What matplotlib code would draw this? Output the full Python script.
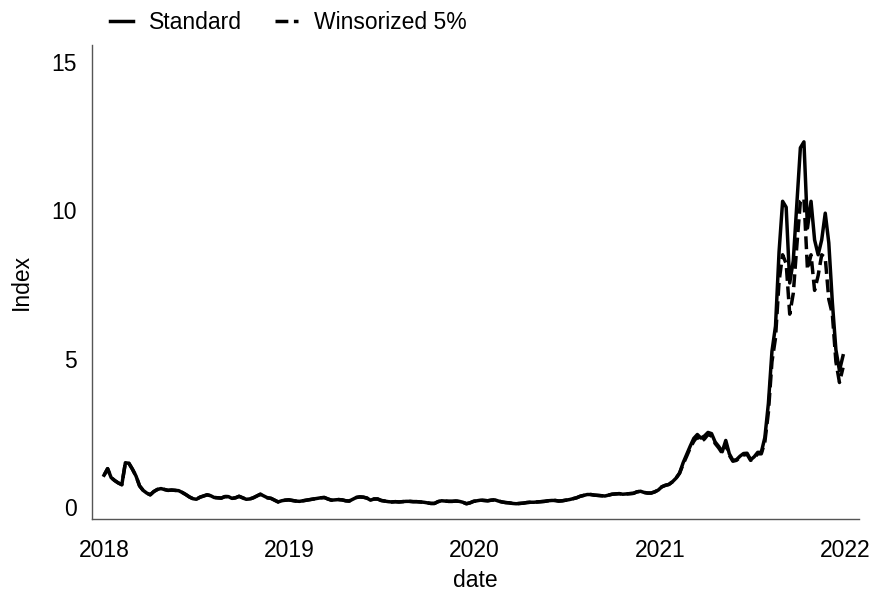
import matplotlib
matplotlib.use("agg")
import matplotlib.pyplot as plt
import matplotlib.dates as mdates
import pandas as pd

plt.rcParams["font.family"] = ["Liberation Sans", "DejaVu Sans"]

# weekly index values
start_date = "2018-01-01"

standard = [
    1.08, 1.30, 1.00, 0.90, 0.82, 0.76, 1.50, 1.48, 1.28, 1.05,
    0.72, 0.57, 0.48, 0.42, 0.53, 0.60, 0.63, 0.60, 0.57, 0.58,
    0.57, 0.56, 0.50, 0.43, 0.35, 0.29, 0.27, 0.34, 0.38, 0.42,
    0.39, 0.33, 0.32, 0.31, 0.36, 0.36, 0.30, 0.32, 0.37, 0.32,
    0.27, 0.28, 0.32, 0.38, 0.44, 0.38, 0.32, 0.30, 0.24, 0.18,
    0.22, 0.24, 0.25, 0.23, 0.21, 0.20, 0.22, 0.24, 0.26, 0.28,
    0.30, 0.32, 0.33, 0.28, 0.24, 0.25, 0.26, 0.25, 0.22, 0.21,
    0.27, 0.33, 0.35, 0.34, 0.31, 0.24, 0.28, 0.28, 0.23, 0.21,
    0.19, 0.18, 0.19, 0.18, 0.19, 0.20, 0.20, 0.19, 0.19, 0.18,
    0.17, 0.15, 0.13, 0.13, 0.19, 0.22, 0.21, 0.20, 0.20, 0.21,
    0.20, 0.17, 0.12, 0.15, 0.20, 0.22, 0.24, 0.23, 0.22, 0.24,
    0.25, 0.21, 0.18, 0.16, 0.15, 0.13, 0.12, 0.13, 0.14, 0.16,
    0.17, 0.17, 0.18, 0.19, 0.20, 0.22, 0.23, 0.23, 0.21, 0.22,
    0.24, 0.26, 0.29, 0.32, 0.37, 0.40, 0.43, 0.43, 0.41, 0.40,
    0.39, 0.38, 0.41, 0.44, 0.45, 0.46, 0.44, 0.45, 0.46, 0.47,
    0.52, 0.54, 0.50, 0.48, 0.48, 0.52, 0.58, 0.69, 0.74, 0.77,
    0.86, 0.98, 1.15, 1.50, 1.78, 2.06, 2.32, 2.45, 2.33, 2.40,
    2.52, 2.48, 2.20, 2.05, 1.87, 2.25, 1.80, 1.58, 1.60, 1.72,
    1.81, 1.82, 1.60, 1.70, 1.85, 1.85, 2.35, 3.50, 5.25, 6.10,
    8.60, 10.30, 10.10, 7.55, 8.30, 10.20, 12.10, 12.30, 9.40, 10.30,
    9.00, 8.50, 9.00, 9.90, 8.90, 6.90, 5.30, 4.60, 5.10,
]

# winsorized series matches the standard one until spring 2021
winsorized_2021 = [
    1.45, 1.72, 2.00, 2.22, 2.38, 2.20, 2.30, 2.45, 2.40, 2.15,
    2.00, 1.82, 2.15, 1.75, 1.55, 1.58, 1.68, 1.76, 1.78, 1.58,
    1.66, 1.80, 1.80, 2.20, 3.20, 4.90, 5.70, 7.60, 8.50, 8.20,
    6.50, 7.20, 8.80, 10.30, 10.40, 8.00, 8.50, 7.30, 7.80, 8.50,
    8.40, 7.00, 6.50, 4.90, 4.20, 4.70,
]
winsorized = standard[:163] + winsorized_2021

dates = pd.date_range(start_date, periods=len(standard), freq="7D")

fig = plt.figure(figsize=(8.75, 5.92), dpi=100)
ax = fig.add_axes([0.105, 0.123, 0.877, 0.801])

ax.plot(dates, standard, color="black", lw=2.5, label="Standard")
ax.plot(dates, winsorized, color="black", lw=2.5, ls="--", label="Winsorized 5%")

ax.set_xlim(pd.Timestamp("2017-12-08"), pd.Timestamp("2022-01-28"))
ax.set_ylim(-0.4, 15.56)
ax.set_yticks([0, 5, 10, 15])
ax.xaxis.set_major_locator(mdates.YearLocator())
ax.xaxis.set_major_formatter(mdates.DateFormatter("%Y"))

for side in ["top", "right"]:
    ax.spines[side].set_visible(False)
for side in ["left", "bottom"]:
    ax.spines[side].set_color("#555555")
    ax.spines[side].set_linewidth(1.0)

fs = 16.5
ax.tick_params(axis="x", length=0, pad=14, labelsize=fs)
ax.tick_params(axis="y", length=0, pad=11, labelsize=fs)
ax.set_xlabel("date", fontsize=fs, labelpad=5)
ax.set_ylabel("Index", fontsize=fs, labelpad=13)

fig.legend(
    loc="upper left",
    bbox_to_anchor=(0.102, 1.017),
    ncol=2,
    frameon=False,
    fontsize=fs,
    handlelength=1.0,
    handletextpad=0.7,
    columnspacing=1.45,
)

fig.savefig("out.png", dpi=100)
